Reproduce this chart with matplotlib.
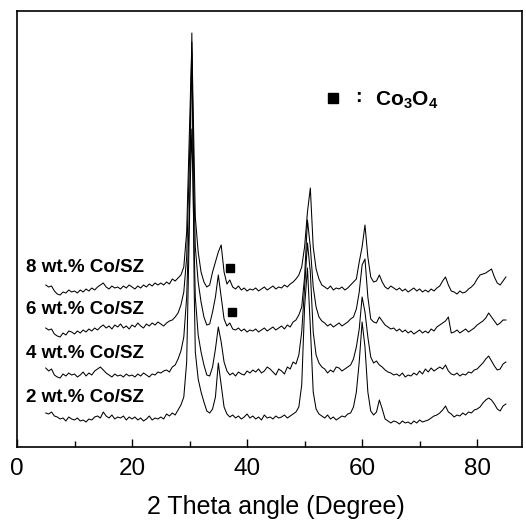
import numpy as np
import matplotlib
matplotlib.use('Agg')
import matplotlib.pyplot as plt

plt.rcParams['font.family'] = ['Liberation Sans', 'DejaVu Sans']
plt.rcParams['mathtext.fontset'] = 'custom'
plt.rcParams['mathtext.rm'] = 'Liberation Sans'
plt.rcParams['mathtext.bf'] = 'Liberation Sans:bold'

# 2 theta sample positions (deg)
two_theta = np.r_[np.arange(5.0, 30.0, 0.5), [30.0, 30.4, 30.8], np.arange(31.0, 85.5, 0.5)]

# stacked intensities (a.u.)
i_2wt = [
    34, 33, 35, 31, 30, 28, 29, 26, 30, 28,
    27, 29, 26, 27, 25, 28, 27, 30, 31, 29,
    35, 31, 29, 32, 28, 30, 29, 31, 27, 30,
    28, 30, 27, 29, 26, 28, 31, 27, 29, 28,
    30, 28, 33, 31, 34, 32, 37, 42, 50, 85,
    230, 414, 160,
    95, 68, 55, 45, 36, 34, 38, 50, 84, 62,
    40, 33, 30, 32, 29, 31, 28, 30, 33, 29,
    31, 28, 30, 27, 32, 29, 30, 28, 31, 29,
    30, 32, 29, 31, 33, 35, 40, 62, 140, 179,
    120, 55, 38, 33, 31, 29, 32, 28, 30, 27,
    29, 31, 30, 33, 34, 40, 55, 85, 125, 100,
    55, 36, 32, 35, 47, 38, 28, 26, 24, 26,
    25, 23, 26, 24, 25, 23, 26, 24, 27, 25,
    26, 27, 29, 31, 32, 34, 37, 41, 35, 33,
    30, 32, 31, 34, 32, 35, 34, 37, 38, 40,
    44, 47, 49, 47, 43, 38, 36, 41, 43,
]
i_4wt = [
    79, 76, 78, 72, 70, 69, 73, 71, 74, 72,
    73, 70, 72, 75, 71, 74, 72, 76, 78, 80,
    77, 74, 72, 70, 73, 71, 72, 70, 73, 71,
    72, 70, 73, 71, 74, 72, 70, 73, 72, 75,
    74, 76, 77, 75, 80, 82, 88, 96, 110, 150,
    240, 318, 200,
    150, 112, 95, 82, 72, 71, 80, 98, 120, 105,
    85, 76, 72, 74, 71, 75, 73, 72, 76, 74,
    77, 75, 78, 74, 76, 80, 78, 75, 72, 78,
    76, 73, 80, 78, 85, 83, 92, 115, 160, 204,
    175, 115, 92, 84, 80, 78, 74, 77, 75, 80,
    79, 76, 78, 80, 82, 88, 100, 118, 150, 135,
    110, 90, 84, 86, 82, 80, 77, 75, 74, 72,
    73, 71, 74, 70, 72, 71, 74, 72, 76, 73,
    78, 75, 79, 76, 78, 80, 78, 82, 76, 73,
    72, 74, 71, 73, 72, 75, 74, 77, 78, 81,
    84, 88, 91, 86, 81, 77, 78, 83, 85,
]
i_6wt = [
    119, 117, 118, 113, 111, 110, 114, 112, 116, 115,
    113, 116, 114, 117, 115, 118, 116, 119, 117, 120,
    122, 119, 121, 118, 122, 120, 123, 119, 121, 118,
    122, 120, 124, 121, 119, 123, 121, 124, 122, 125,
    123, 121, 124, 126, 127, 130, 134, 142, 155, 190,
    290, 395, 250,
    200, 165, 145, 130, 122, 123, 135, 150, 172, 150,
    128, 121, 124, 118, 117, 119, 116, 118, 115, 117,
    116, 118, 115, 117, 119, 116, 118, 120, 117, 119,
    121, 118, 122, 120, 125, 127, 132, 140, 170, 227,
    200, 160, 140, 130, 126, 124, 121, 123, 120, 122,
    124, 121, 123, 125, 128, 130, 138, 155, 182, 188,
    150, 128, 125, 124, 130, 126, 122, 120, 118, 119,
    116, 118, 115, 117, 114, 116, 113, 115, 117, 114,
    116, 114, 118, 116, 120, 122, 124, 126, 130, 114,
    115, 117, 114, 116, 118, 115, 117, 119, 122, 124,
    126, 129, 134, 130, 126, 122, 124, 127, 127,
]
i_8wt = [
    162, 160, 161, 156, 153, 152, 155, 154, 157, 155,
    156, 154, 157, 155, 158, 156, 159, 157, 160, 162,
    164, 160, 158, 161, 159, 160, 158, 161, 159, 162,
    160, 158, 161, 159, 162, 160, 163, 161, 164, 162,
    164, 162, 165, 163, 168, 166, 169, 172, 180, 215,
    320, 405, 290,
    230, 195, 175, 165, 160, 162, 175, 185, 195, 202,
    175, 163, 167, 160, 158, 161, 157, 159, 156, 158,
    157, 159, 156, 158, 160, 157, 159, 161, 158, 160,
    159, 162, 160, 163, 165, 168, 172, 180, 200, 235,
    259, 200, 178, 168, 162, 160, 158, 161, 157, 159,
    158, 160, 157, 159, 162, 165, 168, 185, 200, 222,
    190, 170, 165, 166, 172, 165, 160, 158, 161, 159,
    157, 159, 156, 158, 155, 157, 159, 156, 158, 155,
    157, 155, 158, 156, 159, 161, 166, 170, 162, 156,
    155, 153, 156, 154, 155, 158, 160, 163, 168, 172,
    173, 174, 176, 178, 170, 164, 162, 166, 170,
]

labels = ['2 wt.% Co/SZ', '4 wt.% Co/SZ', '6 wt.% Co/SZ', '8 wt.% Co/SZ']
label_y = [50, 94, 138, 180]

# Co3O4 reflection markers
co_x = [37.0, 37.4]
co_y = [179, 135]

fig = plt.figure(figsize=(5.26, 5.22), dpi=100)
ax = fig.add_axes([17 / 526, 75 / 522, 505 / 526, 436 / 522])

for y in [i_2wt, i_4wt, i_6wt, i_8wt]:
    ax.plot(two_theta, y, c='k', lw=0.75)

for lab, ly in zip(labels, label_y):
    ax.text(1.6, ly, lab, fontsize=13.5, fontweight='bold', va='center', ha='left')

ax.plot(co_x, co_y, 's', c='k', ms=6)

# legend-like annotation
ax.plot([55.0], [349], 's', c='k', ms=7)
ax.text(59.3, 349, ':', fontsize=14, fontweight='bold', va='center', ha='center')
ax.text(62.3, 347, r'$\mathbf{Co_3O_4}$', fontsize=15, va='center', ha='left')

ax.set_xlim(0, 87.8)
ax.set_ylim(0, 436)
ax.set_xticks([0, 20, 40, 60, 80])
ax.set_xticks([10, 30, 50, 70], minor=True)
ax.set_yticks([])
ax.tick_params(axis='x', which='major', direction='in', length=6, width=1, labelsize=17.5, pad=8)
ax.tick_params(axis='x', which='minor', direction='in', length=4, width=1)
for s in ax.spines.values():
    s.set_linewidth(1.2)
ax.set_xlabel('2 Theta angle (Degree)', fontsize=18)
ax.xaxis.set_label_coords(0.513, -0.11)

fig.savefig('out.png', dpi=100)
